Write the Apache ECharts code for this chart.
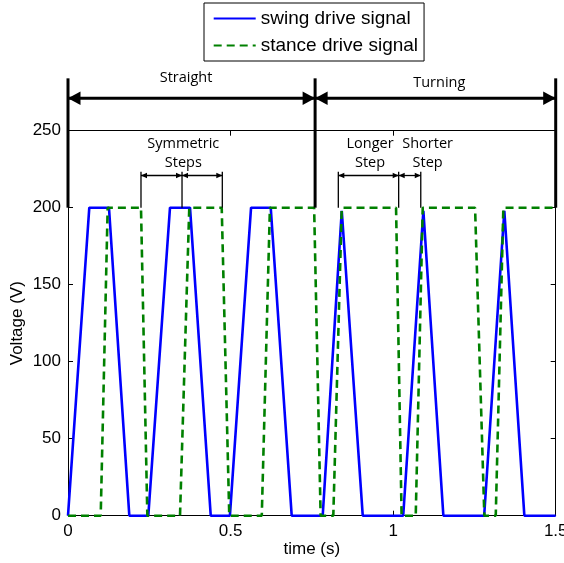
<!DOCTYPE html>
<html><head><meta charset="utf-8">
<script src="https://cdn.jsdelivr.net/npm/echarts@6/dist/echarts.min.js"></script>
<style>html,body{margin:0;padding:0;background:#fff}#c{width:564px;height:563px}</style>
</head><body><div id="c"></div>
<script>
// ---- data ----
const swingT = [0, 0.0655, 0.126, 0.1886, 0.247, 0.3137, 0.3753, 0.439, 0.498, 0.563, 0.6235, 0.688, 0.7834, 0.842, 0.9065, 1.031, 1.093, 1.1545, 1.28, 1.342, 1.4036, 1.5];
const swingV = [0, 200, 200, 0, 0, 200, 200, 0, 0, 200, 200, 0, 0, 198, 0, 0, 198, 0, 0, 198, 0, 0];
const stanceT = [0, 0.1006, 0.122, 0.2245, 0.244, 0.3445, 0.373, 0.4728, 0.496, 0.596, 0.621, 0.757, 0.777, 0.816, 0.842, 1.009, 1.026, 1.0695, 1.091, 1.252, 1.2805, 1.3156, 1.339, 1.5];
const stanceV = [0, 0, 200, 200, 0, 0, 200, 200, 0, 0, 200, 200, 0, 0, 200, 200, 0, 0, 200, 200, 0, 0, 200, 200];
const xTicks = [0, 0.5, 1, 1.5];
const yTicks = [0, 50, 100, 150, 200, 250];
const seriesNames = ['swing drive signal', 'stance drive signal'];

// annotations (data units)
const phaseBounds = [0, 0.76, 1.5];
const phaseLineTop = 284, phaseLineBottom = 200, phaseArrowV = 271.1;
const phaseLabels = ['Straight', 'Turning'];
const phaseLabelT = [0.363, 1.142];
const phaseLabelV = [284.4, 281.2];
const symMarks = [0.2245, 0.3507, 0.4746];
const turnMarks = [0.8314, 1.017, 1.085];
const stepMarkTop = 223.3, stepArrowV = 220.9;
const stepLabelsL1 = ['Symmetric', 'Longer', 'Shorter'];
const stepLabelsL2 = ['Steps', 'Step', 'Step'];
const stepLabelT = [0.3547, 0.929, 1.106];
const stepLabelV1 = 241.7, stepLabelV2 = 229.0;

const chart = echarts.init(document.getElementById('c'), null, {renderer: 'canvas'});
const axisFont = 'Liberation Sans';
const axisCommon = {
  type: 'value',
  axisLine: {show: true, onZero: false, lineStyle: {color: '#000', width: 1}},
  axisTick: {show: true, inside: true, length: 5, lineStyle: {color: '#000', width: 1}},
  splitLine: {show: false}
};
const option = {
  animation: false,
  backgroundColor: '#fff',
  grid: {left: 68, right: 8.3, top: 130.7, bottom: 47.3, containLabel: false, outerBoundsMode: 'none'},
  legend: {
    orient: 'vertical', left: 204, top: 3,
    padding: [6, 6, 6, 8.7],
    itemWidth: 42, itemHeight: 18, itemGap: 8,
    borderColor: '#000', borderWidth: 1, backgroundColor: '#fff',
    selectedMode: false,
    itemStyle: {opacity: 0},
    textStyle: {fontSize: 19, fontFamily: axisFont, color: '#000'},
    data: seriesNames
  },
  xAxis: [
    Object.assign({}, axisCommon, {
      position: 'bottom', min: xTicks[0], max: xTicks[xTicks.length - 1], interval: xTicks[1] - xTicks[0],
      axisLabel: {color: '#000', fontSize: 17, fontFamily: axisFont, margin: 7},
      name: 'time (s)', nameLocation: 'middle', nameGap: 25, nameMoveOverlap: false,
      nameTextStyle: {color: '#000', fontSize: 17, fontFamily: axisFont}
    }),
    Object.assign({}, axisCommon, {
      position: 'top', min: xTicks[0], max: xTicks[xTicks.length - 1], interval: xTicks[1] - xTicks[0],
      axisLabel: {show: false}
    })
  ],
  yAxis: [
    Object.assign({}, axisCommon, {
      position: 'left', min: yTicks[0], max: yTicks[yTicks.length - 1], interval: yTicks[1] - yTicks[0],
      axisLabel: {color: '#000', fontSize: 17, fontFamily: axisFont, margin: 7},
      name: 'Voltage (V)', nameLocation: 'middle', nameGap: 42, nameMoveOverlap: false,
      nameTextStyle: {color: '#000', fontSize: 17, fontFamily: axisFont}
    }),
    Object.assign({}, axisCommon, {
      position: 'right', min: yTicks[0], max: yTicks[yTicks.length - 1], interval: yTicks[1] - yTicks[0],
      axisLabel: {show: false}
    })
  ],
  series: [
    {
      name: seriesNames[0], type: 'line', xAxisIndex: 0, yAxisIndex: 0,
      data: swingT.map((t, i) => [t, swingV[i]]),
      symbol: 'none', showSymbol: false,
      lineStyle: {color: '#0000ff', width: 2.6},
      itemStyle: {color: '#0000ff'}, z: 3
    },
    {
      name: seriesNames[1], type: 'line', xAxisIndex: 0, yAxisIndex: 0,
      data: stanceT.map((t, i) => [t, stanceV[i]]),
      symbol: 'none', showSymbol: false,
      lineStyle: {color: '#008000', width: 2.6, type: [8, 5]},
      itemStyle: {color: '#008000'}, z: 4
    }
  ]
};
chart.setOption(option);

// ---- annotations through the series' coordinate system ----
const P = (t, v) => chart.convertToPixel({seriesIndex: 0}, [t, v]);
const g = [];
function seg(t1, v1, t2, v2, w) {
  const a = P(t1, v1), b = P(t2, v2);
  g.push({type: 'line', silent: true, z: 10,
    shape: {x1: a[0], y1: a[1], x2: b[0], y2: b[1]},
    style: {stroke: '#000', lineWidth: w}});
}
function head(t, v, dir, L, H) {
  const p = P(t, v);
  g.push({type: 'polygon', silent: true, z: 10,
    shape: {points: [[p[0], p[1]], [p[0] - dir * L, p[1] - H], [p[0] - dir * L, p[1] + H]]},
    style: {fill: '#000', stroke: 'none'}});
}
function dblArrow(t1, t2, v, w, L, H) {
  seg(t1, v, t2, v, w); head(t1, v, -1, L, H); head(t2, v, 1, L, H);
}
function label(str, t, v, size) {
  const p = P(t, v);
  g.push({type: 'text', silent: true, z: 10, x: p[0], y: p[1],
    style: {text: str, fill: '#000', font: size + 'px "Open Sans"',
      align: 'center', verticalAlign: 'middle', textAlign: 'center', textVerticalAlign: 'middle'}});
}
phaseBounds.forEach(t => seg(t, phaseLineTop, t, phaseLineBottom, 3));
for (let i = 0; i < phaseBounds.length - 1; i++) {
  dblArrow(phaseBounds[i], phaseBounds[i + 1], phaseArrowV, 3, 12.5, 6.7);
  label(phaseLabels[i], phaseLabelT[i], phaseLabelV[i], 14.5);
}
[symMarks, turnMarks].forEach(m => {
  m.forEach(t => seg(t, stepMarkTop, t, 200, 1.3));
  for (let i = 0; i < m.length - 1; i++) dblArrow(m[i], m[i + 1], stepArrowV, 1.3, 6, 2.8);
});
stepLabelsL1.forEach((s, i) => {
  label(s, stepLabelT[i], stepLabelV1, 14.5);
  label(stepLabelsL2[i], stepLabelT[i], stepLabelV2, 14.5);
});
chart.setOption({graphic: g});
</script></body></html>
